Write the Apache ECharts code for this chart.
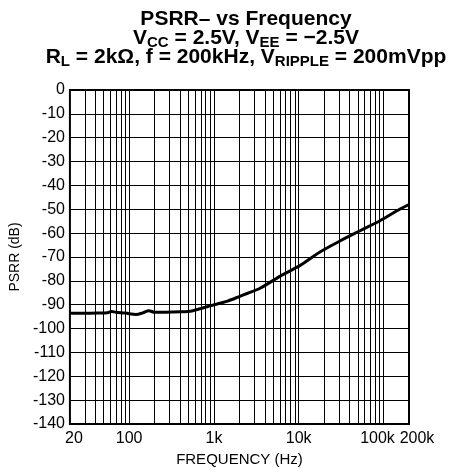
<!DOCTYPE html>
<html>
<head>
<meta charset="utf-8">
<script src="https://cdn.jsdelivr.net/npm/echarts@6/dist/echarts.min.js"></script>
<style>html,body{margin:0;padding:0;background:#fff}#c{width:453px;height:472px}</style>
</head>
<body>
<div id="c"></div>
<script>
var freqHz = [20, 30, 45, 55, 62, 70, 90, 120, 145, 170, 200, 270, 400, 550, 700, 900, 1200, 1450, 2050, 2500, 3500, 6000, 10400, 18000, 31000, 53000, 91000, 157000, 200000];
var psrrDb = [-93.6, -93.6, -93.5, -93.4, -92.8, -93.2, -93.5, -94.1, -93.4, -92.5, -93.2, -93.2, -93.0, -92.6, -91.6, -90.5, -89.3, -88.5, -86.4, -85.2, -83.1, -78.1, -73.5, -67.8, -63.2, -59.0, -54.8, -49.9, -48.0];
var xGridLines = [30,40,50,60,70,80,90,100,200,300,400,500,600,700,800,900,1000,2000,3000,4000,5000,6000,7000,8000,9000,10000,20000,30000,40000,50000,60000,70000,80000,90000,100000];
var titleLines = [
  '{b|PSRR\u2013 vs Frequency}',
  '{b|V}{s|CC}{b| = 2.5V, V}{s|EE}{b| = \u22122.5V}',
  '{b|R}{s|L}{b| = 2k\u03A9, f = 200kHz, V}{s|RIPPLE}{b| = 200mVpp}'
];
var FONT = '"Liberation Sans", Arial, sans-serif';
function fmtHz(v){
  var s = v >= 1000 ? (v/1000) + 'k' : String(v);
  if (v === 20) return '{r|' + s + '}';
  if (v === 100000) return '{l|' + s + '}';
  if (v === 200000) return '{rr|' + s + '}';
  return s;
}
var data = freqHz.map(function(f,i){ return [f, psrrDb[i]]; });
var chart = echarts.init(document.getElementById('c'), null, {renderer:'canvas'});
var richTitle = {
  b: {fontFamily: FONT, fontWeight: 'bold', fontSize: 21, lineHeight: 20, verticalAlign: 'top', color: '#000'},
  s: {fontFamily: FONT, fontWeight: 'bold', fontSize: 15, lineHeight: 20, verticalAlign: 'top', padding: [7,0,0,0], color: '#000'}
};
var tops = [9, 28, 47];
var lblStyle = {fontFamily: FONT, fontSize: 16, color: '#000'};
chart.setOption({
  animation: false,
  backgroundColor: '#fff',
  graphic: titleLines.map(function(t, i){
    return {type:'text', x: 246, y: tops[i], style: {text: t, rich: richTitle, align: 'center', verticalAlign: 'top'}};
  }),
  grid: {left: 69, right: 44, top: 90, bottom: 45, show: true, borderColor: '#000', borderWidth: 2, backgroundColor: 'transparent'},
  xAxis: {
    type: 'log', logBase: 10, min: 20, max: 200000,
    axisLine: {show: false}, axisTick: {show: false}, splitLine: {show: false},
    axisLabel: {formatter: fmtHz, fontFamily: FONT, fontSize: 16, color: '#000', margin: 7, showMinLabel: true, showMaxLabel: true,
      rich: {
        r: Object.assign({padding: [0,0,0,8]}, lblStyle),
        l: Object.assign({padding: [0,12,0,0]}, lblStyle),
        rr: Object.assign({padding: [0,0,0,16]}, lblStyle)
      }},
    name: 'FREQUENCY (Hz)', nameLocation: 'middle', nameGap: 28,
    nameTextStyle: {fontFamily: FONT, fontSize: 15, color: '#000'}
  },
  yAxis: {
    type: 'value', min: -140, max: 0, interval: 10,
    axisLine: {show: false}, axisTick: {show: false},
    splitLine: {show: true, lineStyle: {color: '#000', width: 1}},
    axisLabel: {fontFamily: FONT, fontSize: 16, color: '#000', margin: 5},
    name: 'PSRR (dB)', nameLocation: 'middle', nameGap: 45,
    nameTextStyle: {fontFamily: FONT, fontSize: 14, color: '#000'}
  },
  series: [{
    type: 'line', data: data, showSymbol: false, smooth: 0.3,
    lineStyle: {color: '#000', width: 3}, z: 5,
    markLine: {
      silent: true, symbol: ['none','none'], label: {show: false},
      lineStyle: {color: '#000', width: 1, type: 'solid'},
      data: xGridLines.map(function(v){ return {xAxis: v}; }),
      z: 1
    }
  }]
});
</script>
</body>
</html>
